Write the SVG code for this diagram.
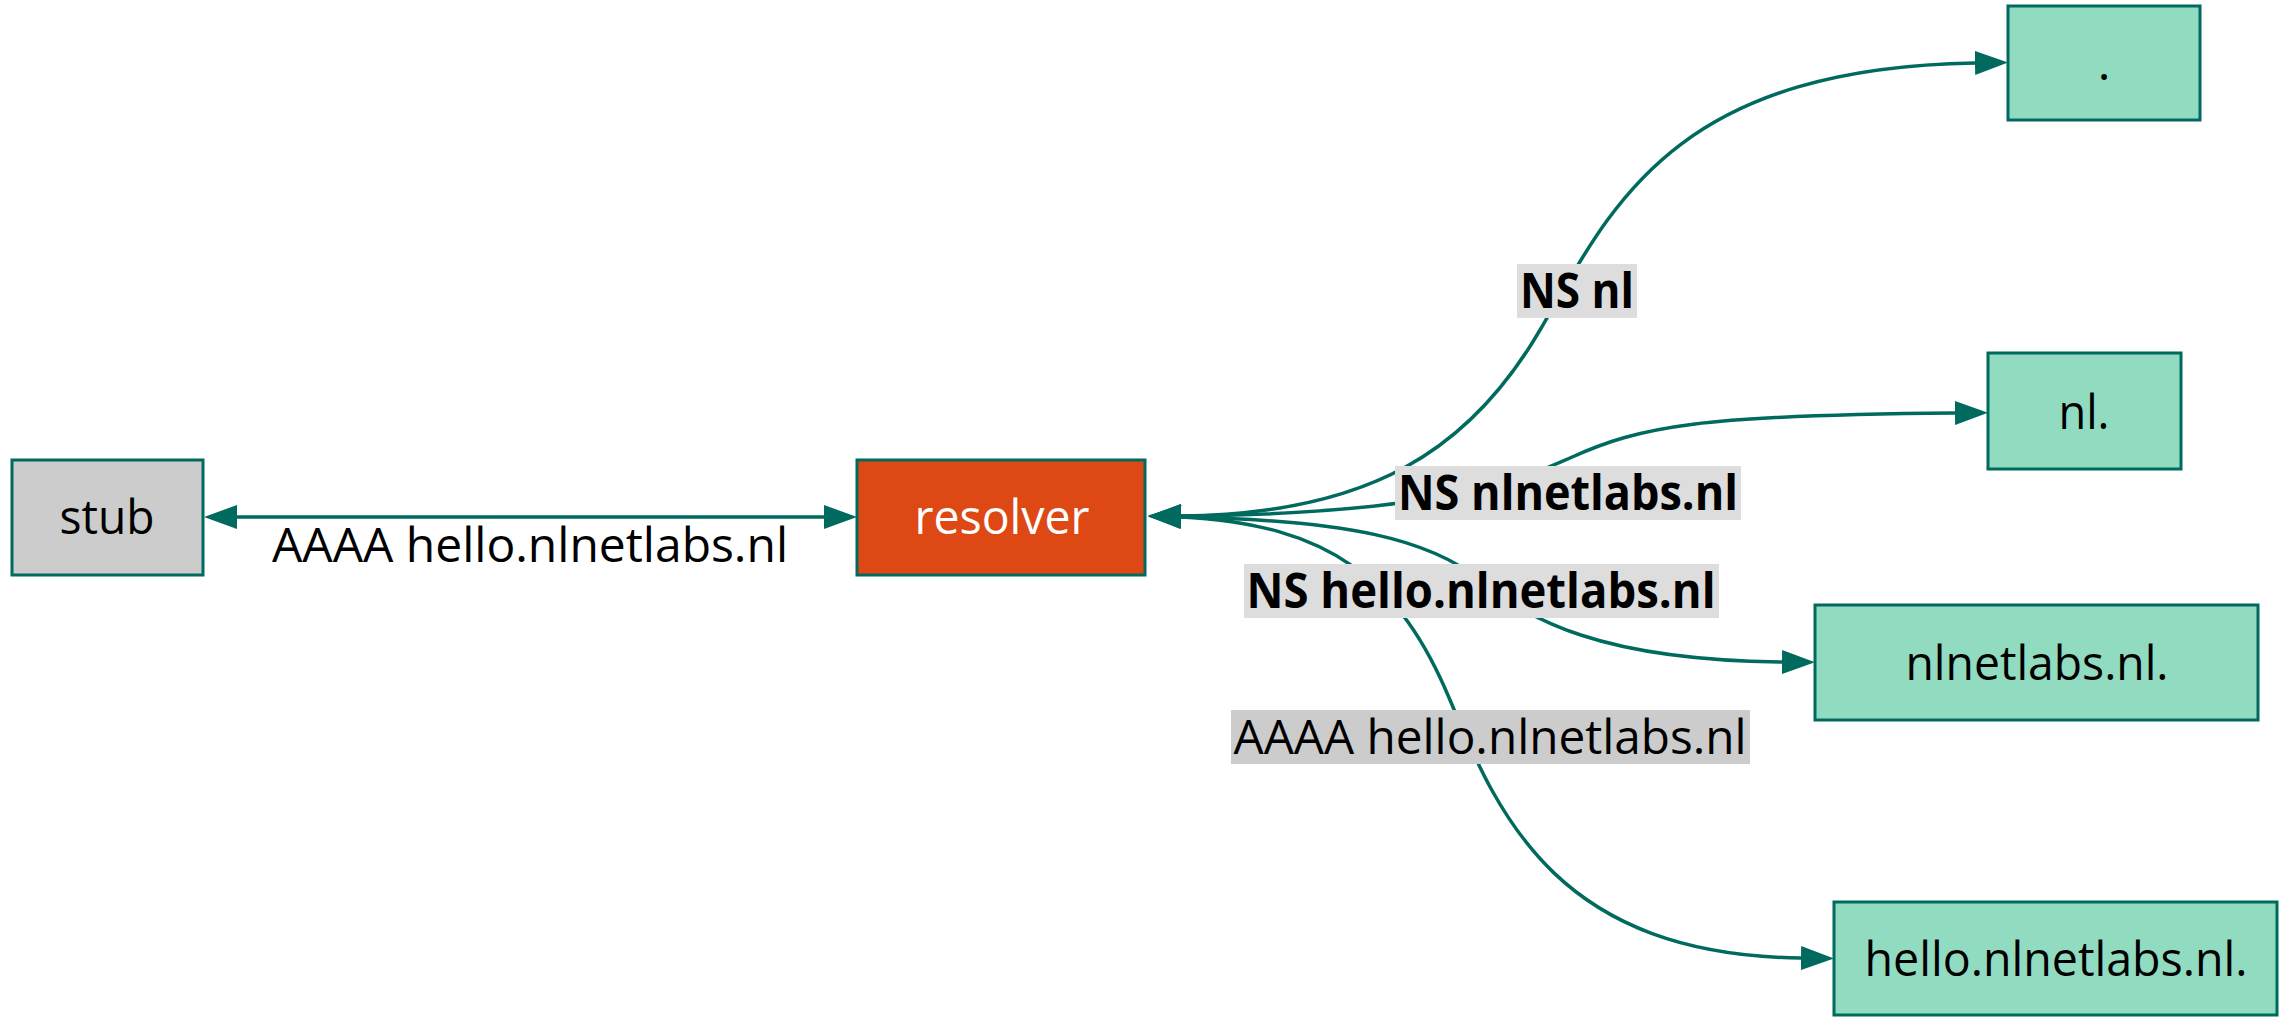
<svg xmlns="http://www.w3.org/2000/svg" width="2290" height="1017" viewBox="0 0 2290 1017">
<style>
.node rect{stroke:#006a5f;stroke-width:3}
.tgt rect{fill:#91dbc0}
.ntext{font-family:"Open Sans","Noto Sans",sans-serif;font-size:48px;fill:#000;text-anchor:middle}
.edge{fill:none;stroke:#006a5f;stroke-width:3.5}
.elab{font-family:"Open Sans","Noto Sans",sans-serif;font-size:48px;fill:#000;text-anchor:middle}
.bold{font-weight:bold}
</style>
<defs>
<marker id="ah" markerUnits="userSpaceOnUse" markerWidth="34" markerHeight="26" viewBox="0 -13 34 26" refX="0" refY="0" orient="auto-start-reverse">
<path d="M0,-12 L33,0 L0,12 z" fill="#006a5f"/>
</marker>
</defs>
<rect width="2290" height="1017" fill="#fff"/>
<g id="connectors">
<path class="edge" d="M237,517 L824,517" marker-start="url(#ah)" marker-end="url(#ah)"/>
<path class="edge" d="M1181,516 C1370,514 1470,450 1540,330 S1670,68 1975,63" marker-start="url(#ah)" marker-end="url(#ah)"/>
<path class="edge" d="M1181,516 C1400,514 1500,490 1570,458 S1700,415 1955,413" marker-start="url(#ah)" marker-end="url(#ah)"/>
<path class="edge" d="M1181,517 C1350,520 1430,540 1480,580 S1600,660 1782,662" marker-start="url(#ah)" marker-end="url(#ah)"/>
<path class="edge" d="M1181,517 C1330,524 1400,580 1450,700 S1560,955 1801,958" marker-start="url(#ah)" marker-end="url(#ah)"/>
<text class="elab" x="530" y="562" textLength="516" lengthAdjust="spacingAndGlyphs">AAAA hello.nlnetlabs.nl</text>
<rect x="1517" y="264" width="120" height="54" fill="#dddddd"/>
<text class="elab bold" x="1577" y="308" textLength="114" lengthAdjust="spacingAndGlyphs">NS nl</text>
<rect x="1395" y="466" width="346" height="54" fill="#dddddd"/>
<text class="elab bold" x="1568" y="510" textLength="340" lengthAdjust="spacingAndGlyphs">NS nlnetlabs.nl</text>
<rect x="1244" y="564" width="475" height="54" fill="#dddddd"/>
<text class="elab bold" x="1481" y="608" textLength="469" lengthAdjust="spacingAndGlyphs">NS hello.nlnetlabs.nl</text>
<rect x="1231" y="710" width="519" height="54" fill="#cccccc"/>
<text class="elab" x="1490" y="754" textLength="513" lengthAdjust="spacingAndGlyphs">AAAA hello.nlnetlabs.nl</text>
</g>
<g id="stub" class="node">
<rect x="12" y="460" width="191" height="115" fill="#cccccc"/>
<text class="ntext" x="107" y="534" textLength="95" lengthAdjust="spacingAndGlyphs">stub</text>
</g>
<g id="resolver" class="node">
<rect x="857" y="460" width="288" height="115" fill="#dd4814"/>
<text class="ntext" x="1002" y="534" textLength="175" lengthAdjust="spacingAndGlyphs" style="fill:#fff">resolver</text>
</g>
<g id="root" class="node tgt">
<rect x="2008" y="6" width="192" height="114"/>
<text class="ntext" x="2104" y="80">.</text>
</g>
<g id="nl" class="node tgt">
<rect x="1988" y="353" width="193" height="116"/>
<text class="ntext" x="2084" y="429" textLength="51" lengthAdjust="spacingAndGlyphs">nl.</text>
</g>
<g id="nlnetlabs" class="node tgt">
<rect x="1815" y="605" width="443" height="115"/>
<text class="ntext" x="2037" y="680" textLength="263" lengthAdjust="spacingAndGlyphs">nlnetlabs.nl.</text>
</g>
<g id="hello" class="node tgt">
<rect x="1834" y="902" width="443" height="113"/>
<text class="ntext" x="2056" y="976" textLength="383" lengthAdjust="spacingAndGlyphs">hello.nlnetlabs.nl.</text>
</g>
</svg>
